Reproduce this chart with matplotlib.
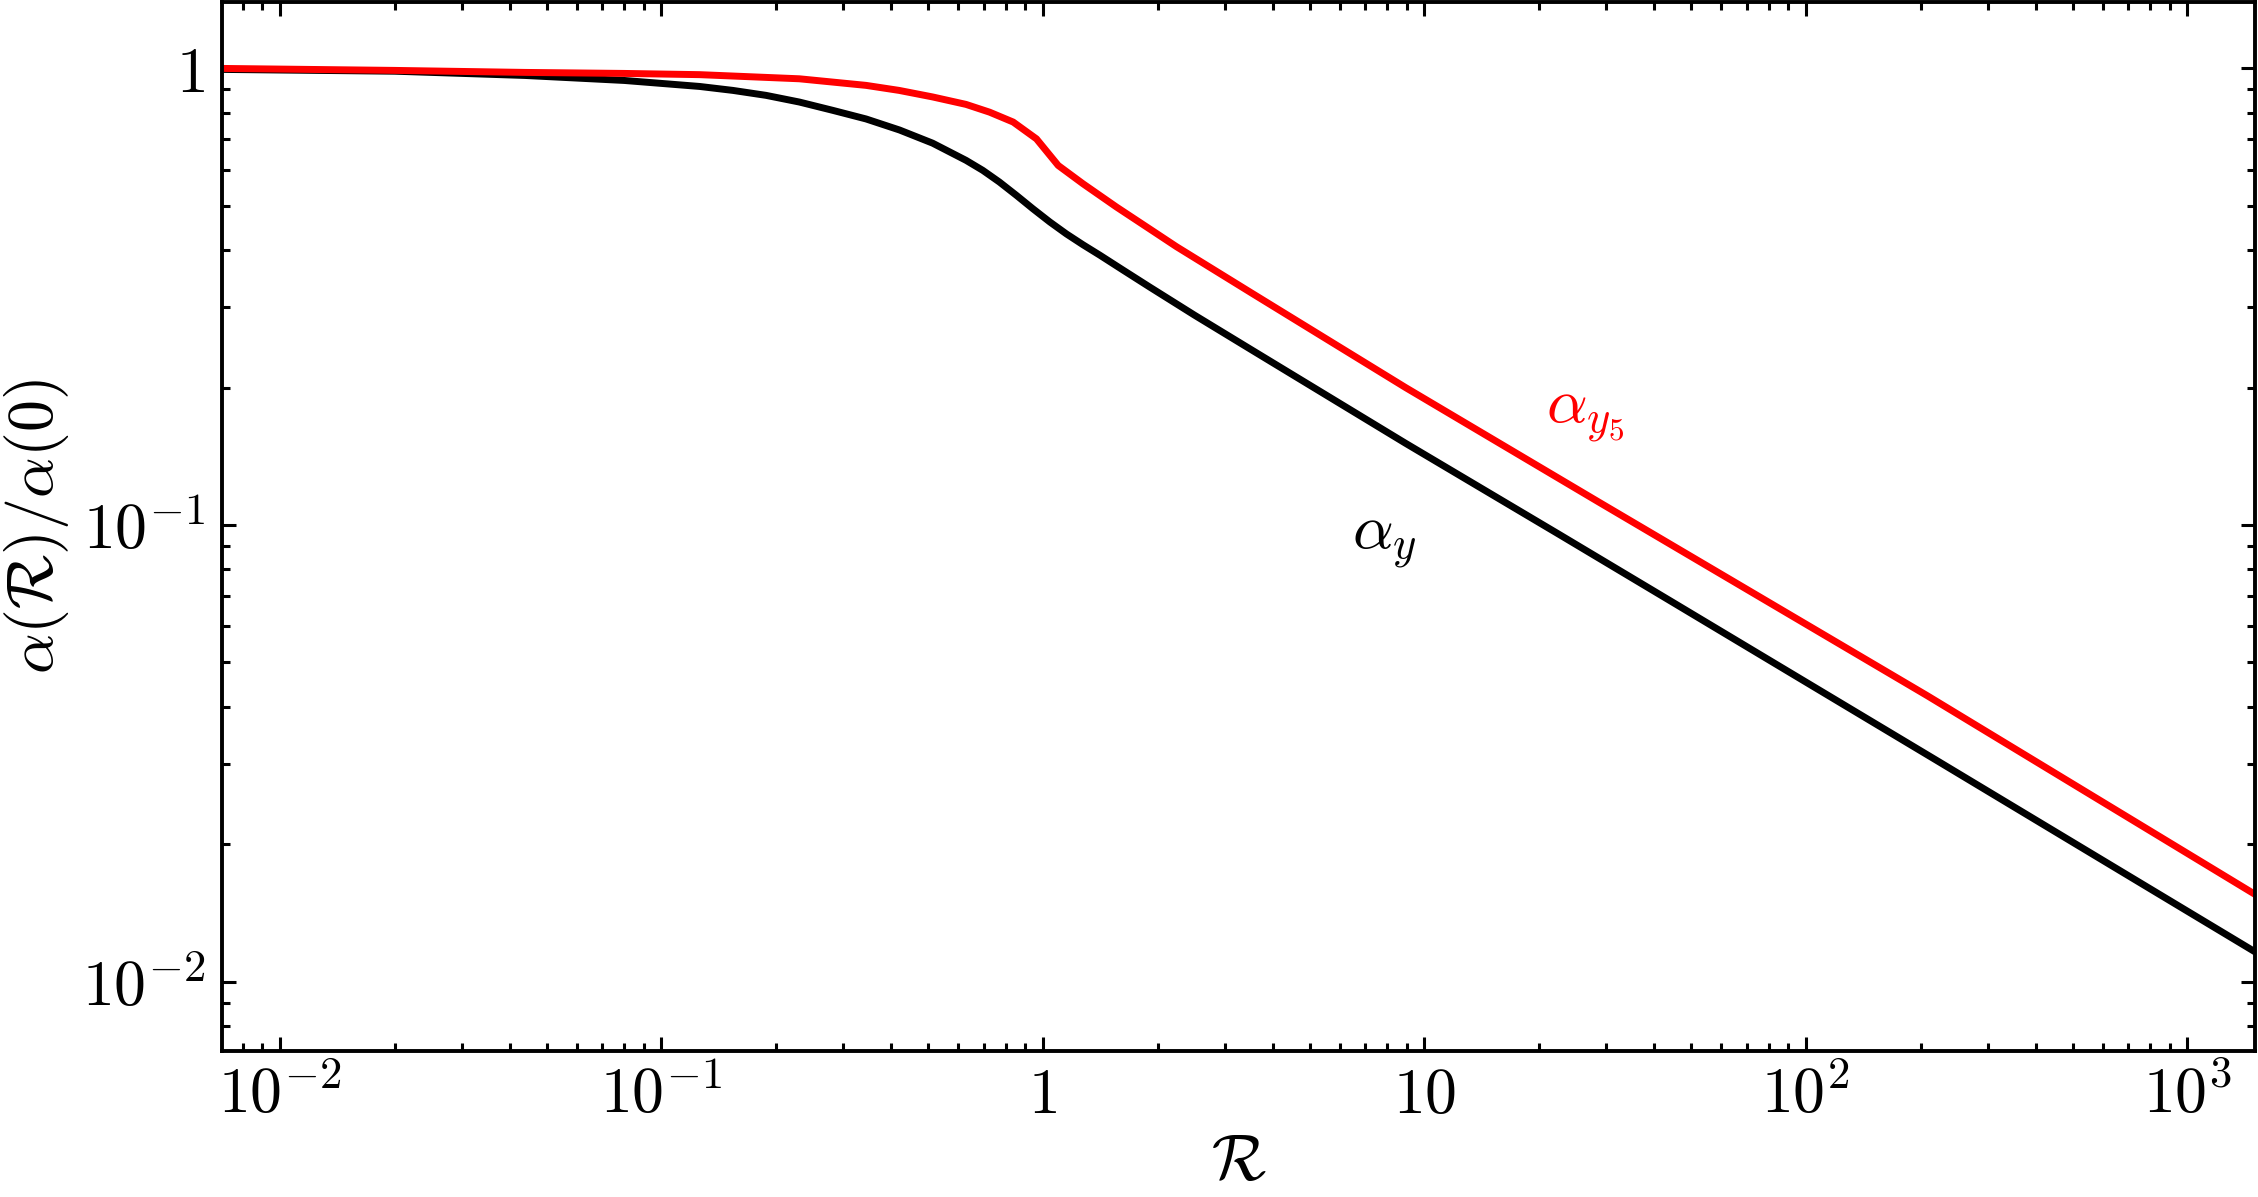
import matplotlib
matplotlib.use("Agg")
import matplotlib.pyplot as plt

# === style: LaTeX-like look with Computer Modern math ===
plt.rcParams["mathtext.fontset"] = "cm"
plt.rcParams["font.family"] = "serif"
plt.rcParams["font.serif"] = ["DejaVu Serif"]
plt.rcParams["axes.linewidth"] = 1.4

# values (log-log)
r_black = [0.007, 0.02, 0.044, 0.08, 0.126, 0.154, 0.188, 0.23, 0.282, 0.344,
           0.421, 0.514, 0.629, 0.696, 0.769, 0.853, 0.941, 1.043, 1.153, 1.274,
           1.41, 1.62, 1.906, 2.5, 3.55, 8.93, 22.5, 43.9, 219, 1510]
alpha_black = [0.995, 0.986, 0.965, 0.941, 0.913, 0.895, 0.873, 0.844, 0.809, 0.775,
               0.733, 0.686, 0.629, 0.598, 0.564, 0.527, 0.493, 0.461, 0.434, 0.411,
               0.39, 0.362, 0.332, 0.288, 0.241, 0.151, 0.0955, 0.0684, 0.0306, 0.0116]

r_red = [0.007, 0.02, 0.044, 0.08, 0.126, 0.23, 0.344, 0.42, 0.514, 0.629,
         0.725, 0.836, 0.962, 1.097, 1.274, 1.56, 1.906, 2.24, 3.55, 8.93,
         28.8, 208, 1510]
alpha_red = [1.0, 0.99, 0.98, 0.975, 0.969, 0.949, 0.918, 0.895, 0.866, 0.834,
             0.802, 0.763, 0.701, 0.613, 0.559, 0.497, 0.445, 0.407, 0.321, 0.2,
             0.112, 0.0423, 0.0155]

x_ticks = [1e-2, 1e-1, 1, 10, 1e2, 1e3]
x_ticklabels = [r"$10^{-2}$", r"$10^{-1}$", r"$1$", r"$10$", r"$10^{2}$", r"$10^{3}$"]
y_ticks = [1e-2, 1e-1, 1]
y_ticklabels = [r"$10^{-2}$", r"$10^{-1}$", r"$1$"]

fig = plt.figure(figsize=(11.29, 5.985), dpi=200)
ax = fig.add_axes([0.0983, 0.122, 0.9005, 0.876])

ax.plot(r_black, alpha_black, color="black", lw=2.5)
ax.plot(r_red, alpha_red, color="red", lw=2.5)

ax.set_xscale("log")
ax.set_yscale("log")
ax.set_xlim(0.00705, 1507)
ax.set_ylim(0.00705, 1.395)

ax.set_xticks(x_ticks)
ax.set_xticklabels(x_ticklabels)
ax.set_yticks(y_ticks)
ax.set_yticklabels(y_ticklabels)

ax.tick_params(which="both", direction="in", top=True, right=True, width=1.1)
ax.tick_params(which="major", length=5, labelsize=23)
ax.tick_params(which="minor", length=3)
ax.tick_params(axis="x", which="major", pad=5)
ax.tick_params(axis="y", which="major", pad=6)

ax.set_xlabel(r"$\mathcal{R}$", fontsize=23, labelpad=2)
ax.set_ylabel(r"$\alpha(\mathcal{R})/\alpha(0)$", fontsize=23, labelpad=4)

# curve labels
ax.text(6.45, 0.089, r"$\alpha_y$", fontsize=23, color="black",
        ha="left", va="baseline")
ax.text(20.9, 0.168, r"$\alpha_{y_5}$", fontsize=23, color="red",
        ha="left", va="baseline")

fig.savefig("out.png", dpi=200)
